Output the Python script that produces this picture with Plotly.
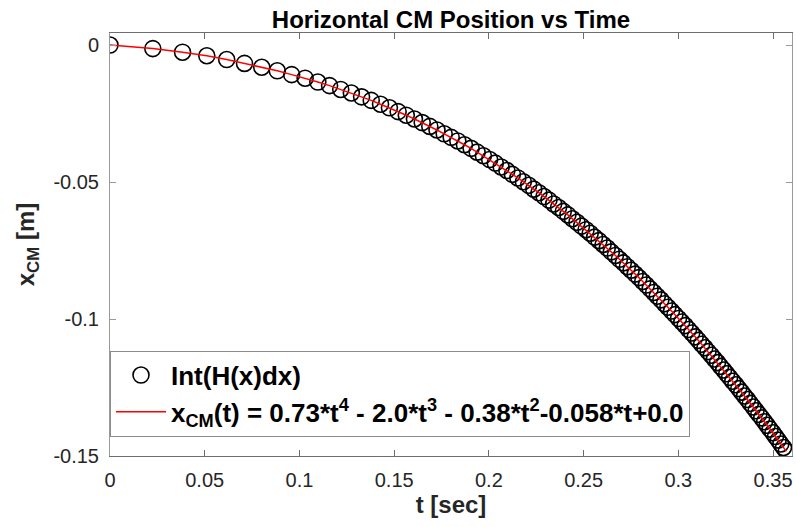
import plotly.graph_objects as go

# Time samples (s)
t_sec = [0.0, 0.0226, 0.0383, 0.0511, 0.0616, 0.0710, 0.0801, 0.0883, 0.0959, 0.1030,
         0.1097, 0.1159, 0.1218, 0.1274, 0.1328, 0.1379, 0.1428, 0.1475, 0.1521, 0.1564,
         0.1607, 0.1648, 0.1688, 0.1726, 0.1764, 0.1801, 0.1836, 0.1871, 0.1906, 0.1938,
         0.1971, 0.2004, 0.2034, 0.2065, 0.2095, 0.2124, 0.2153, 0.2182, 0.2210, 0.2237,
         0.2264, 0.2291, 0.2317, 0.2342, 0.2368, 0.2393, 0.2417, 0.2441, 0.2465, 0.2489,
         0.2513, 0.2535, 0.2558, 0.2581, 0.2603, 0.2625, 0.2646, 0.2668, 0.2689, 0.2710,
         0.2731, 0.2751, 0.2772, 0.2792, 0.2812, 0.2831, 0.2851, 0.2870, 0.2889, 0.2908,
         0.2927, 0.2945, 0.2964, 0.2982, 0.3001, 0.3018, 0.3036, 0.3054, 0.3071, 0.3089,
         0.3106, 0.3123, 0.3140, 0.3157, 0.3174, 0.3190, 0.3207, 0.3223, 0.3239, 0.3255,
         0.3271, 0.3287, 0.3303, 0.3319, 0.3334, 0.3349, 0.3365, 0.3380, 0.3395, 0.3410,
         0.3425, 0.3440, 0.3455, 0.3469, 0.3484, 0.3499, 0.3513, 0.3527, 0.3541, 0.3555,
         0.3570]

# Horizontal CM position (m)
x_cm = [0.0, -0.0013, -0.0026, -0.0039, -0.0053, -0.0067, -0.0081, -0.0094, -0.0108, -0.0121,
        -0.0135, -0.0148, -0.0162, -0.0175, -0.0189, -0.0202, -0.0216, -0.0229, -0.0243, -0.0256,
        -0.0270, -0.0283, -0.0297, -0.0310, -0.0324, -0.0337, -0.0350, -0.0364, -0.0377, -0.0391,
        -0.0404, -0.0418, -0.0431, -0.0445, -0.0458, -0.0472, -0.0485, -0.0499, -0.0512, -0.0526,
        -0.0539, -0.0553, -0.0566, -0.0580, -0.0593, -0.0607, -0.0620, -0.0634, -0.0647, -0.0661,
        -0.0674, -0.0687, -0.0701, -0.0714, -0.0728, -0.0741, -0.0755, -0.0768, -0.0782, -0.0795,
        -0.0809, -0.0822, -0.0836, -0.0849, -0.0863, -0.0876, -0.0890, -0.0903, -0.0917, -0.0930,
        -0.0944, -0.0957, -0.0971, -0.0984, -0.0998, -0.1011, -0.1024, -0.1038, -0.1051, -0.1065,
        -0.1078, -0.1092, -0.1105, -0.1119, -0.1132, -0.1146, -0.1159, -0.1173, -0.1186, -0.1200,
        -0.1213, -0.1227, -0.1240, -0.1254, -0.1267, -0.1281, -0.1294, -0.1308, -0.1321, -0.1335,
        -0.1348, -0.1361, -0.1375, -0.1388, -0.1402, -0.1415, -0.1429, -0.1442, -0.1456, -0.1469,
        -0.1483]

x_ticks = [0, 0.05, 0.1, 0.15, 0.2, 0.25, 0.3, 0.35]
x_tick_text = ["0", "0.05", "0.1", "0.15", "0.2", "0.25", "0.3", "0.35"]
y_ticks = [0, -0.05, -0.1, -0.15]
y_tick_text = ["0", "-0.05", "-0.1", "-0.15"]

title_text = "Horizontal CM Position vs Time"
x_label = "t [sec]"
y_label = "x<sub>CM</sub> [m]"
name_data = "Int(H(x)dx)"
name_fit = "x<sub>CM</sub>(t) = 0.73*t<sup>4</sup> - 2.0*t<sup>3</sup> - 0.38*t<sup>2</sup>-0.058*t+0.0"

FONT = "Liberation Sans, Arial, sans-serif"

fig = go.Figure()
fig.add_trace(go.Scatter(
    x=t_sec, y=x_cm, mode="markers", name=name_data, legendgroup="a",
    marker=dict(symbol="circle-open", size=16, color="black", line=dict(width=1.6, color="black")),
))
fig.add_trace(go.Scatter(
    x=t_sec, y=x_cm, mode="lines", name=name_fit, legendgroup="b",
    line=dict(color="#ff0000", width=1.5),
))

fig.update_layout(
    width=796, height=527,
    margin=dict(l=110, r=4, t=33, b=71),
    paper_bgcolor="white", plot_bgcolor="white",
    font=dict(family=FONT, size=20, color="#262626"),
    title=dict(text="<b>" + title_text + "</b>", x=0.5665, xanchor="center",
               y=0.962, yref="container", yanchor="middle",
               font=dict(family=FONT, size=24, color="black")),
    legend=dict(x=0, xanchor="left", y=0.249, yanchor="top",
                bgcolor="white", bordercolor="#8c8c8c", borderwidth=1,
                font=dict(family=FONT, size=26, color="black", weight="bold"),
                tracegroupgap=0, itemwidth=50),
    showlegend=True,
)

fig.update_xaxes(
    range=[0, 0.36], tickvals=x_ticks, ticktext=x_tick_text,
    showgrid=False, zeroline=False, showline=True, linecolor="#6e6e6e", linewidth=1,
    mirror="ticks", ticks="inside", ticklen=6, tickcolor="#6e6e6e",
    tickfont=dict(size=20, color="#262626"), ticklabelstandoff=6,
    title=dict(text="<b>" + x_label + "</b>", font=dict(size=24, color="#262626"), standoff=6),
)
fig.update_yaxes(
    range=[-0.15, 0.0044], tickvals=y_ticks, ticktext=y_tick_text,
    showgrid=False, zeroline=False, showline=True, linecolor="#9a9a9a", linewidth=1,
    mirror="ticks", ticks="inside", ticklen=6, tickcolor="#9a9a9a",
    tickfont=dict(size=20, color="#262626"), ticklabelstandoff=6,
    title=dict(text="<b>" + y_label + "</b>", font=dict(size=24, color="#262626"), standoff=12),
)

fig.write_html("out.html")
